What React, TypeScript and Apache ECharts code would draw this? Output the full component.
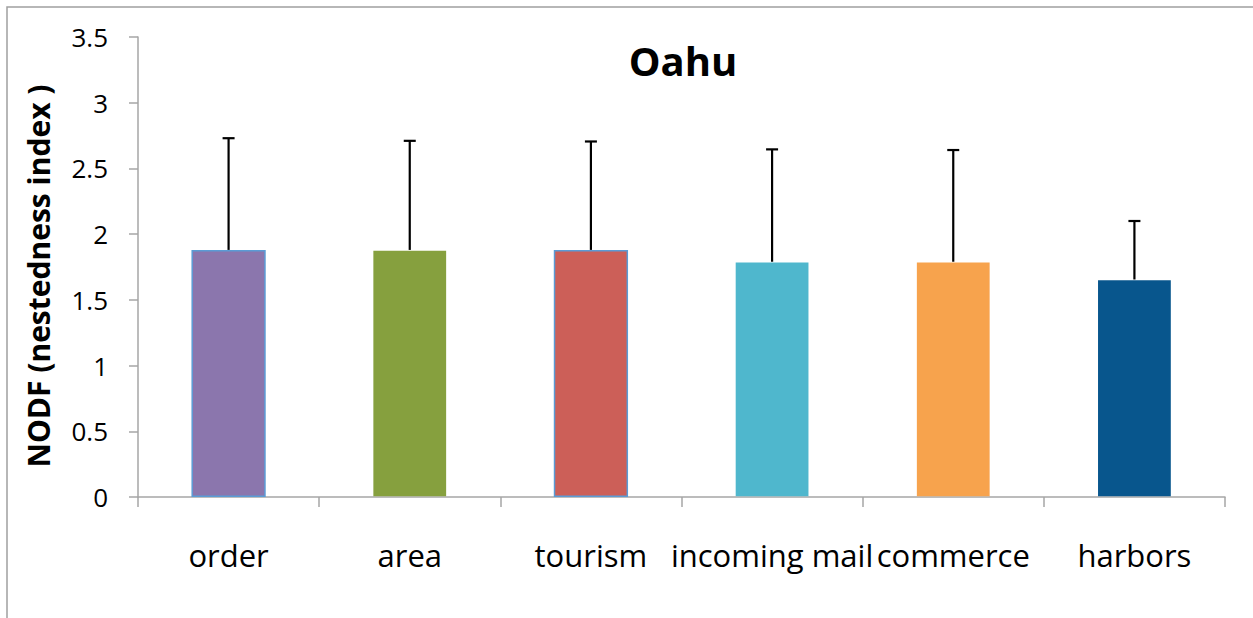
import React, { useEffect, useRef } from "react";
import * as echarts from "echarts";

const categories = ["order", "area", "tourism", "incoming mail", "commerce", "harbors"];
const meanValues = [1.88, 1.88, 1.88, 1.79, 1.79, 1.655];
const upperValues = [2.73, 2.71, 2.705, 2.645, 2.64, 2.1];
const barColors = ["#8b76ad", "#86a03e", "#cc5f58", "#4fb7cd", "#f7a34d", "#08568d"];
const barBorderColors = ["#5b9bd5", "transparent", "#5b9bd5", "transparent", "transparent", "transparent"];
const yMin = 0;
const yMax = 3.5;
const yInterval = 0.5;

export default function App() {
  const ref = useRef<HTMLDivElement>(null);
  useEffect(() => {
    if (!ref.current) return;
    const chart = echarts.init(ref.current, null, { renderer: "svg" });
    const font = "'Open Sans', 'Noto Sans', sans-serif";
    chart.setOption({
      animation: false,
      backgroundColor: "#ffffff",
      title: {
        text: "Oahu",
        left: 678,
        top: 35,
        textAlign: "center",
        textStyle: { fontFamily: font, fontWeight: "bold", fontSize: 40, color: "#000" },
      },
      graphic: [
        {
          type: "rect",
          shape: { x: 7, y: 7, width: 1400, height: 800 },
          style: { fill: "none", stroke: "#a0a0a0", lineWidth: 1.5 },
          silent: true,
        },
      ],
      grid: { left: 138, right: 28, top: 37, bottom: 121, containLabel: false },
      xAxis: {
        type: "category",
        data: categories,
        boundaryGap: true,
        axisLine: { show: true, lineStyle: { color: "#a6a6a6", width: 1.5 } },
        axisTick: { show: true, length: 10, interval: 0, lineStyle: { color: "#a6a6a6", width: 1.5 } },
        axisLabel: {
          interval: 0,
          hideOverlap: false,
          margin: 42,
          fontFamily: font,
          fontSize: 31,
          color: "#000",
        },
        splitLine: { show: false },
      },
      yAxis: {
        type: "value",
        min: yMin,
        max: yMax,
        interval: yInterval,
        name: "NODF (nestedness index )",
        nameLocation: "middle",
        nameGap: 85,
        nameRotate: 90,
        nameTextStyle: {
          fontFamily: font,
          fontWeight: "bold",
          fontSize: 30,
          color: "#000",
          padding: [0, 18, 0, 0],
        },
        axisLine: { show: true, lineStyle: { color: "#a6a6a6", width: 1.5 } },
        axisTick: { show: true, length: 9, lineStyle: { color: "#a6a6a6", width: 1.5 } },
        axisLabel: { margin: 30, fontFamily: font, fontSize: 26, color: "#000" },
        splitLine: { show: false },
      },
      series: [
        {
          type: "bar",
          barWidth: "41%",
          data: meanValues.map((v, i) => ({
            value: v,
            itemStyle: { color: barColors[i], borderColor: barBorderColors[i], borderWidth: 1.5 },
          })),
          z: 2,
        },
        {
          type: "custom",
          z: 3,
          data: meanValues.map((v, i) => [i, v, upperValues[i]]),
          renderItem: (params: any, api: any) => {
            const base = api.coord([api.value(0), api.value(1)]);
            const top = api.coord([api.value(0), api.value(2)]);
            const half = 6;
            const style = { stroke: "#000", lineWidth: 2.2 };
            return {
              type: "group",
              children: [
                { type: "line", shape: { x1: base[0], y1: base[1], x2: top[0], y2: top[1] }, style },
                { type: "line", shape: { x1: top[0] - half, y1: top[1], x2: top[0] + half, y2: top[1] }, style },
              ],
            };
          },
        },
      ],
    });
    return () => chart.dispose();
  }, []);
  return <div ref={ref} style={{ position: "absolute", left: 0, top: 0, width: 1253, height: 618 }} />;
}
